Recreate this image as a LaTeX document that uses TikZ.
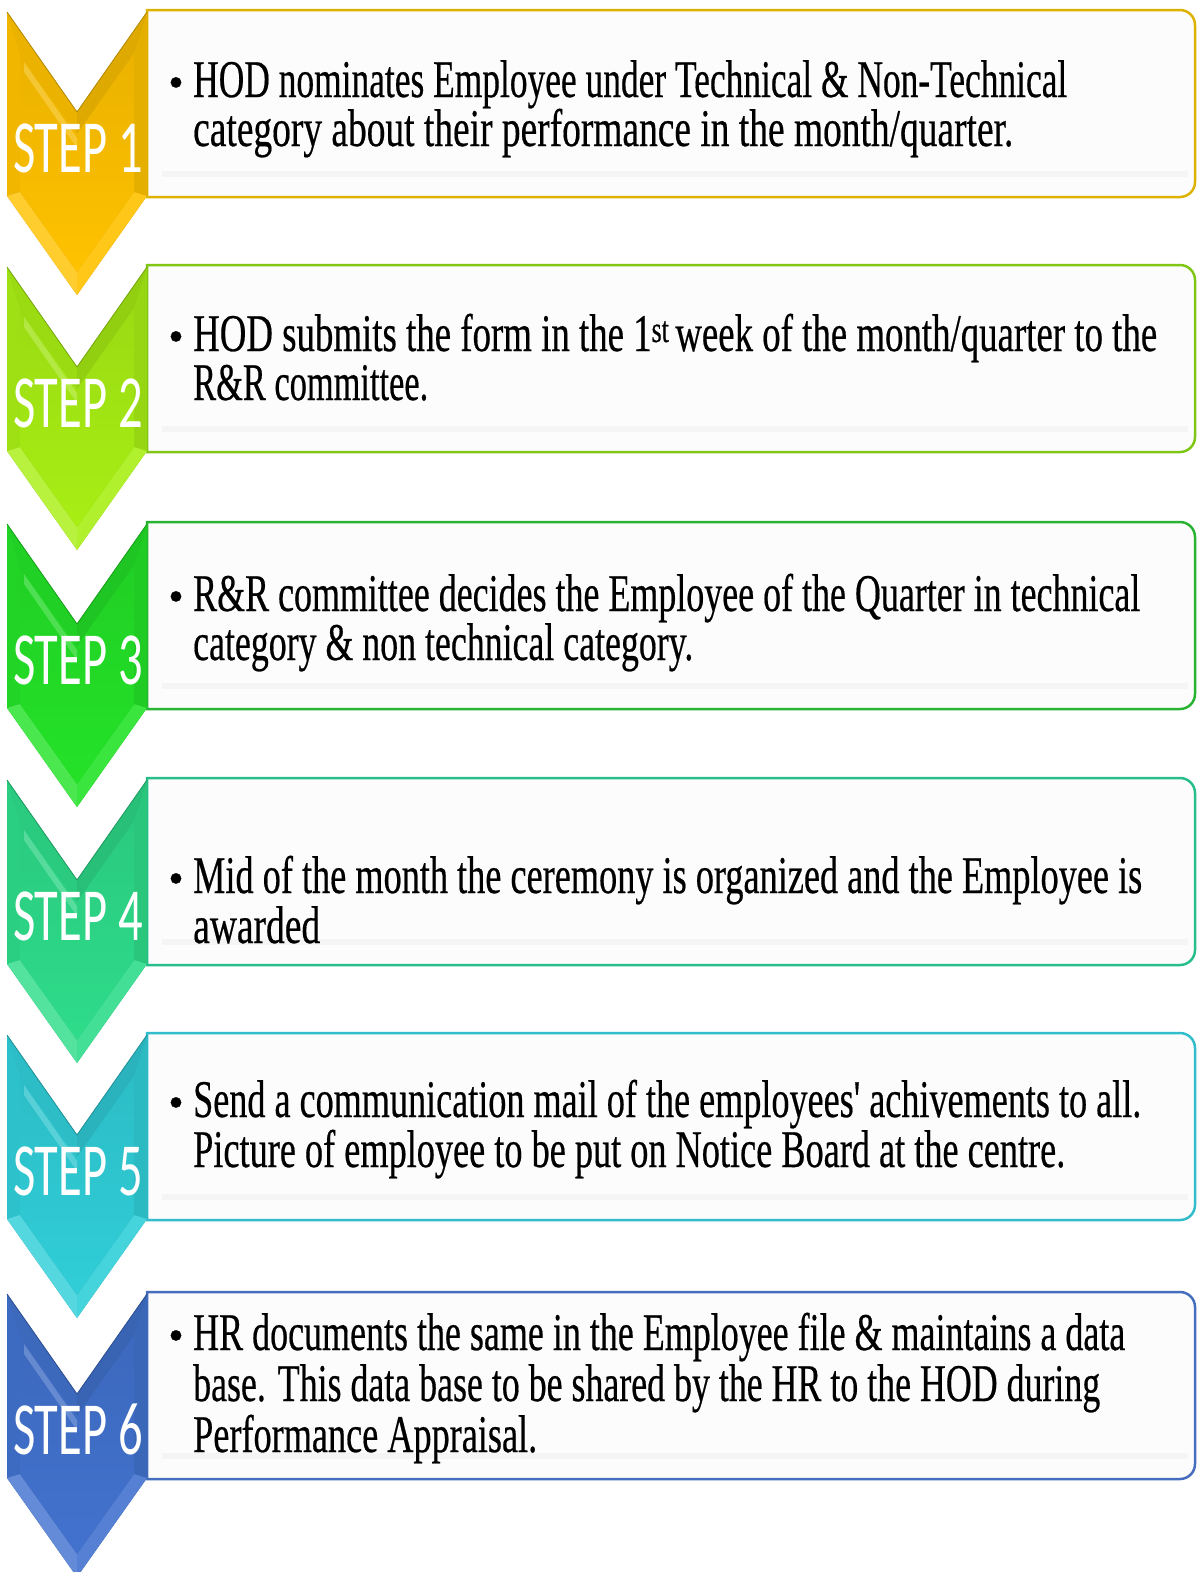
\documentclass[tikz,border=0pt]{standalone}
\usepackage{fontspec}
\usepackage{graphicx}
\usepackage{xfp}
\setmainfont{Liberation Serif}
\newfontfamily\bodyfont[FakeBold=0.5]{Liberation Serif}
\newfontfamily\stepfont{Carlito}
\newsavebox\fitbox
\newcommand\fitline[3]{\sbox\fitbox{#2#3}\edef\fitscale{\fpeval{(#1)/(\the\wd\fitbox)}}\scalebox{\fitscale}[1]{\usebox\fitbox}}
\newcommand\bodysize{\bodyfont\fontsize{53}{60}\selectfont}
\newcommand\stepsize{\stepfont\fontsize{75}{80}\selectfont}
\definecolor{cA}{RGB}{255,194,0}
\definecolor{cB}{RGB}{168,238,20}
\definecolor{cC}{RGB}{36,226,40}
\definecolor{cD}{RGB}{46,220,138}
\definecolor{cE}{RGB}{48,206,216}
\definecolor{cF}{RGB}{66,114,206}
\definecolor{bA}{RGB}{222,178,0}
\definecolor{bB}{RGB}{128,198,20}
\definecolor{bC}{RGB}{40,180,50}
\definecolor{bD}{RGB}{40,190,140}
\definecolor{bE}{RGB}{50,188,204}
\definecolor{bF}{RGB}{70,110,190}
\definecolor{boxfill}{RGB}{252,252,252}
\tikzset{
  boxline/.style={line width=2.5pt},
  txt/.style={anchor=base west, inner sep=0pt, text=black},
  bul/.style={anchor=base, inner sep=0pt, text=black},
  steplabel/.style={anchor=base, inner sep=0pt, text=white},
}
\begin{document}
\begin{tikzpicture}[x=1pt,y=-1pt]
\useasboundingbox (0,0) rectangle (1198,1572);
\fill[white] (0,0) rectangle (1198,1572);
\foreach \i/\t/\c/\b in {1/10/cA/bA,2/265/cB/bB,3/522/cC/bC,4/778/cD/bD,5/1033/cE/bE,6/1292/cF/bF}{
  % text box
  \draw[boxline, draw=\b, fill=boxfill] (147,\t) -- (1180,\t) arc[start angle=-90, end angle=0, radius=15]
     -- (1195,\t+172) arc[start angle=0, end angle=90, radius=15] -- (147,\t+187) -- cycle;
  \fill[black!4] (162,\t+161) rectangle (1188,\t+167);
  % chevron
  \fill[\c!80!black] (7,\t+2) -- (77,\t+102) -- (147,\t+2) -- (147,\t+186) -- (77,\t+285) -- (7,\t+186) -- cycle;
  \fill[\c!92!black] (7,\t+2) -- (77,\t+102) -- (77,\t+124) -- (20,\t+43) -- cycle;
  \fill[\c!87!black] (147,\t+2) -- (77,\t+102) -- (77,\t+124) -- (134,\t+43) -- cycle;
  \fill[\c!94!black] (7,\t+2) -- (20,\t+43) -- (20,\t+182) -- (7,\t+186) -- cycle;
  \fill[\c!90!black] (147,\t+2) -- (134,\t+43) -- (134,\t+182) -- (147,\t+186) -- cycle;
  \fill[\c!82!white] (7,\t+186) -- (20,\t+182) -- (77,\t+262) -- (77,\t+285) -- cycle;
  \fill[\c!90!white] (147,\t+186) -- (134,\t+182) -- (77,\t+262) -- (77,\t+285) -- cycle;
  \shade[top color=\c!92!black, bottom color=\c] (20,\t+43) -- (77,\t+124) -- (134,\t+43) -- (134,\t+182) -- (77,\t+262) -- (20,\t+182) -- cycle;
  \fill[\c!55!white, opacity=0.45] (24,\t+52) -- (77,\t+128) -- (77,\t+138) -- (24,\t+62) -- cycle;
  \draw[\c!70!black, line width=0.8pt] (7,\t+2) -- (77,\t+102) -- (147,\t+2);
}
% step labels
\node[steplabel] (s1) at (78,172)  {\fitline{130pt}{\stepsize}{STEP 1}};
\node[steplabel] (s2) at (78,427)  {\fitline{130pt}{\stepsize}{STEP 2}};
\node[steplabel] (s3) at (78,684)  {\fitline{130pt}{\stepsize}{STEP 3}};
\node[steplabel] (s4) at (78,940)  {\fitline{130pt}{\stepsize}{STEP 4}};
\node[steplabel] (s5) at (78,1195) {\fitline{130pt}{\stepsize}{STEP 5}};
\node[steplabel] (s6) at (78,1454) {\fitline{130pt}{\stepsize}{STEP 6}};
% bullets
\foreach \n/\y in {1/97,2/351,3/611,4/893,5/1117,6/1350}{
  \node[bul] (bullet\n) at (176,\y) {\bodyfont\fontsize{44}{44}\selectfont\textbullet};
}
% texts
\node[txt] (t1a) at (193,97)  {\fitline{874pt}{\bodysize}{HOD nominates Employee under Technical \& Non-Technical}};
\node[txt] (t1b) at (193,146) {\fitline{820pt}{\bodysize}{category about their performance in the month/quarter.}};
\node[txt] (t2a) at (193,351) {\fitline{964pt}{\bodysize}{HOD submits the form in the 1\textsuperscript{st}\,week of the month/quarter to the}};
\node[txt] (t2b) at (193,400) {\fitline{235pt}{\bodysize}{R\&R committee.}};
\node[txt] (t3a) at (193,611) {\fitline{947pt}{\bodysize}{R\&R committee decides the Employee of the Quarter in technical}};
\node[txt] (t3b) at (193,660) {\fitline{500pt}{\bodysize}{category \& non technical category.}};
\node[txt] (t4a) at (193,893) {\fitline{949pt}{\bodysize}{Mid of the month the ceremony is organized and the Employee is}};
\node[txt] (t4b) at (193,943) {\fitline{127pt}{\bodysize}{awarded}};
\node[txt] (t5a) at (193,1117) {\fitline{948pt}{\bodysize}{Send a communication mail of the employees' achivements to all.}};
\node[txt] (t5b) at (193,1167) {\fitline{872pt}{\bodysize}{Picture of employee to be put on Notice Board at the centre.}};
\node[txt] (t6a) at (193,1350) {\fitline{932pt}{\bodysize}{HR documents the same in the Employee file \& maintains a data}};
\node[txt] (t6b) at (193,1401) {\fitline{907pt}{\bodysize}{base. This data base to be shared by the HR to the HOD during}};
\node[txt] (t6c) at (193,1452) {\fitline{344pt}{\bodysize}{Performance Appraisal.}};
\end{tikzpicture}
\end{document}
